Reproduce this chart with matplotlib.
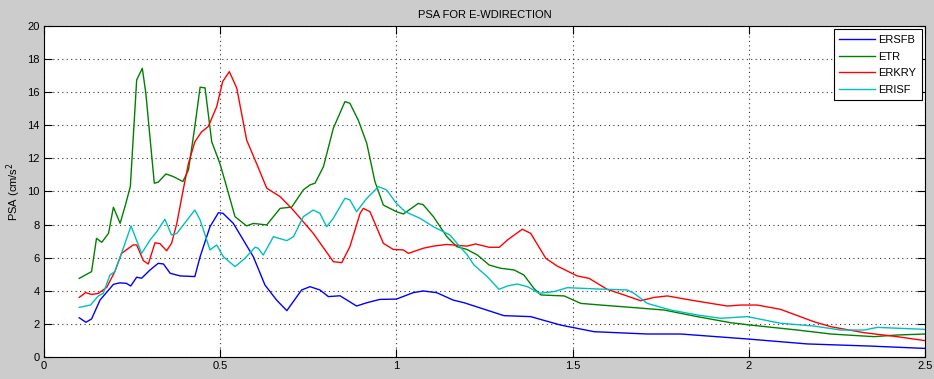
import numpy as np
import matplotlib
matplotlib.use('Agg')
import matplotlib.pyplot as plt

# Period (s) / PSA values, one series per station
ersfb_t = [0.1, 0.119, 0.135, 0.159, 0.197, 0.215, 0.234, 0.246, 0.263, 0.277, 0.301, 0.324,
           0.339, 0.358, 0.386, 0.428, 0.443, 0.471, 0.495, 0.508, 0.537, 0.594, 0.627, 0.660,
           0.689, 0.731, 0.755, 0.783, 0.807, 0.84, 0.887, 0.916, 0.953, 1.0, 1.048, 1.076,
           1.114, 1.161, 1.192, 1.305, 1.381, 1.466, 1.561, 1.712, 1.807, 1.996, 2.166, 2.346, 2.5]
ersfb_v = [2.37, 2.1, 2.3, 3.44, 4.39, 4.48, 4.45, 4.29, 4.82, 4.76, 5.26, 5.66,
           5.62, 5.06, 4.9, 4.86, 6.06, 7.87, 8.72, 8.68, 8.08, 6.06, 4.35, 3.44,
           2.8, 4.05, 4.25, 4.05, 3.65, 3.7, 3.08, 3.28, 3.48, 3.5, 3.89, 3.99,
           3.89, 3.44, 3.28, 2.5, 2.44, 1.93, 1.53, 1.39, 1.39, 1.09, 0.79, 0.66, 0.52]

etr_t = [0.1, 0.135, 0.149, 0.164, 0.183, 0.197, 0.216, 0.23, 0.245, 0.263, 0.279, 0.289,
         0.313, 0.324, 0.346, 0.367, 0.394, 0.41, 0.428, 0.443, 0.457, 0.476, 0.499, 0.514,
         0.542, 0.575, 0.594, 0.632, 0.67, 0.703, 0.736, 0.755, 0.769, 0.793, 0.821, 0.854,
         0.868, 0.892, 0.916, 0.939, 0.963, 1.0, 1.02, 1.062, 1.076, 1.105, 1.143, 1.171,
         1.2, 1.23, 1.263, 1.296, 1.334, 1.362, 1.39, 1.41, 1.476, 1.523, 1.58, 1.665,
         1.759, 1.854, 1.949, 2.005, 2.138, 2.233, 2.355, 2.421, 2.5]
etr_v = [4.75, 5.16, 7.17, 6.93, 7.47, 9.05, 8.08, 9.1, 10.3, 16.74, 17.44, 15.93,
         10.5, 10.56, 11.06, 10.9, 10.6, 11.3, 13.92, 16.3, 16.26, 13.0, 11.7, 10.6,
         8.48, 7.92, 8.07, 7.98, 8.98, 9.06, 10.1, 10.4, 10.5, 11.5, 13.82, 15.43,
         15.33, 14.3, 12.9, 10.6, 9.18, 8.78, 8.64, 9.28, 9.2, 8.48, 7.27, 6.67,
         6.5, 6.16, 5.56, 5.36, 5.26, 4.95, 4.15, 3.75, 3.69, 3.24, 3.14, 3.0,
         2.84, 2.44, 2.07, 1.93, 1.63, 1.39, 1.23, 1.33, 1.39]

erkry_t = [0.1, 0.118, 0.135, 0.154, 0.178, 0.201, 0.22, 0.253, 0.263, 0.282, 0.296, 0.315,
           0.329, 0.348, 0.362, 0.377, 0.395, 0.41, 0.428, 0.447, 0.466, 0.49, 0.507, 0.526,
           0.547, 0.575, 0.603, 0.632, 0.67, 0.707, 0.764, 0.821, 0.845, 0.868, 0.897, 0.906,
           0.925, 0.963, 0.991, 1.02, 1.034, 1.076, 1.105, 1.143, 1.2, 1.225, 1.263, 1.292,
           1.315, 1.357, 1.381, 1.424, 1.456, 1.513, 1.547, 1.598, 1.646, 1.693, 1.731, 1.769,
           1.835, 1.939, 1.977, 2.024, 2.09, 2.185, 2.233, 2.327, 2.421, 2.5]
erkry_v = [3.6, 3.89, 3.78, 3.84, 4.21, 5.16, 6.26, 6.77, 6.77, 5.82, 5.62, 6.9,
           6.85, 6.42, 6.87, 8.08, 10.1, 11.7, 13.0, 13.6, 13.92, 15.12, 16.64, 17.24,
           16.24, 13.11, 11.7, 10.2, 9.69, 8.88, 7.47, 5.76, 5.7, 6.67, 8.68, 8.98,
           8.78, 6.87, 6.5, 6.47, 6.26, 6.57, 6.7, 6.8, 6.7, 6.83, 6.63, 6.63,
           7.07, 7.72, 7.47, 5.96, 5.5, 4.9, 4.75, 4.09, 3.75, 3.4, 3.6, 3.69,
           3.44, 3.08, 3.14, 3.14, 2.88, 2.13, 1.83, 1.47, 1.23, 0.99]

erisf_t = [0.1, 0.132, 0.154, 0.168, 0.187, 0.201, 0.225, 0.247, 0.277, 0.301, 0.32, 0.343,
           0.362, 0.377, 0.428, 0.443, 0.471, 0.49, 0.509, 0.542, 0.57, 0.599, 0.608, 0.622,
           0.651, 0.689, 0.708, 0.736, 0.764, 0.783, 0.802, 0.821, 0.854, 0.868, 0.887, 0.916,
           0.949, 0.972, 1.0, 1.025, 1.067, 1.105, 1.152, 1.18, 1.2, 1.22, 1.258, 1.291,
           1.315, 1.343, 1.372, 1.405, 1.447, 1.485, 1.57, 1.655, 1.674, 1.712, 1.778, 1.854,
           1.92, 1.996, 2.09, 2.185, 2.261, 2.327, 2.365, 2.5]
erisf_v = [3.0, 3.14, 3.69, 3.84, 4.95, 5.16, 6.57, 7.92, 6.26, 7.07, 7.57, 8.32,
           7.37, 7.47, 8.88, 8.28, 6.47, 6.77, 6.06, 5.46, 5.96, 6.63, 6.57, 6.16,
           7.27, 7.03, 7.27, 8.48, 8.88, 8.68, 7.87, 8.38, 9.59, 9.49, 8.78, 9.59,
           10.29, 10.1, 9.28, 8.78, 8.38, 7.87, 7.37, 6.67, 6.2, 5.56, 4.85, 4.09,
           4.29, 4.41, 4.25, 3.85, 3.95, 4.19, 4.11, 4.05, 3.85, 3.24, 2.84, 2.54,
           2.34, 2.44, 2.04, 1.87, 1.63, 1.63, 1.79, 1.67]

plt.rcParams['font.family'] = ['Liberation Sans', 'DejaVu Sans']

fig = plt.figure(figsize=(9.34, 3.79), dpi=100, facecolor='#cccccc')
ax = fig.add_axes([0.0471, 0.058, 0.9433, 0.8735])

ax.plot(ersfb_t, ersfb_v, color=(0, 0, 1), lw=1, label='ERSFB')
ax.plot(etr_t, etr_v, color=(0, 0.5, 0), lw=1, label='ETR')
ax.plot(erkry_t, erkry_v, color=(1, 0, 0), lw=1, label='ERKRY')
ax.plot(erisf_t, erisf_v, color=(0, 0.75, 0.75), lw=1, label='ERISF')

ax.set_xlim(0, 2.5)
ax.set_ylim(0, 20)
ax.set_xticks(np.arange(0, 2.51, 0.5))
ax.set_xticklabels(['0', '0.5', '1', '1.5', '2', '2.5'])
ax.set_yticks(np.arange(0, 21, 2))
ax.tick_params(direction='in', length=6, width=0.8, labelsize=8, top=True, right=True, pad=3)
ax.grid(True, linestyle=(0, (1, 3)), color='#333333', lw=0.8)
for s in ax.spines.values():
    s.set_linewidth(0.8)

ax.set_title('PSA FOR E-WDIRECTION', fontsize=8, pad=6)
ax.set_ylabel('PSA (cm/s$^2$', fontsize=8, labelpad=3)

leg = ax.legend(loc='upper right', fontsize=8, fancybox=False, framealpha=1,
                edgecolor='black', handlelength=3.2, handletextpad=0.3,
                borderaxespad=0.3, labelspacing=0.6, borderpad=0.5)
leg.get_frame().set_linewidth(0.8)

fig.savefig('out.png', dpi=100, facecolor=fig.get_facecolor())
